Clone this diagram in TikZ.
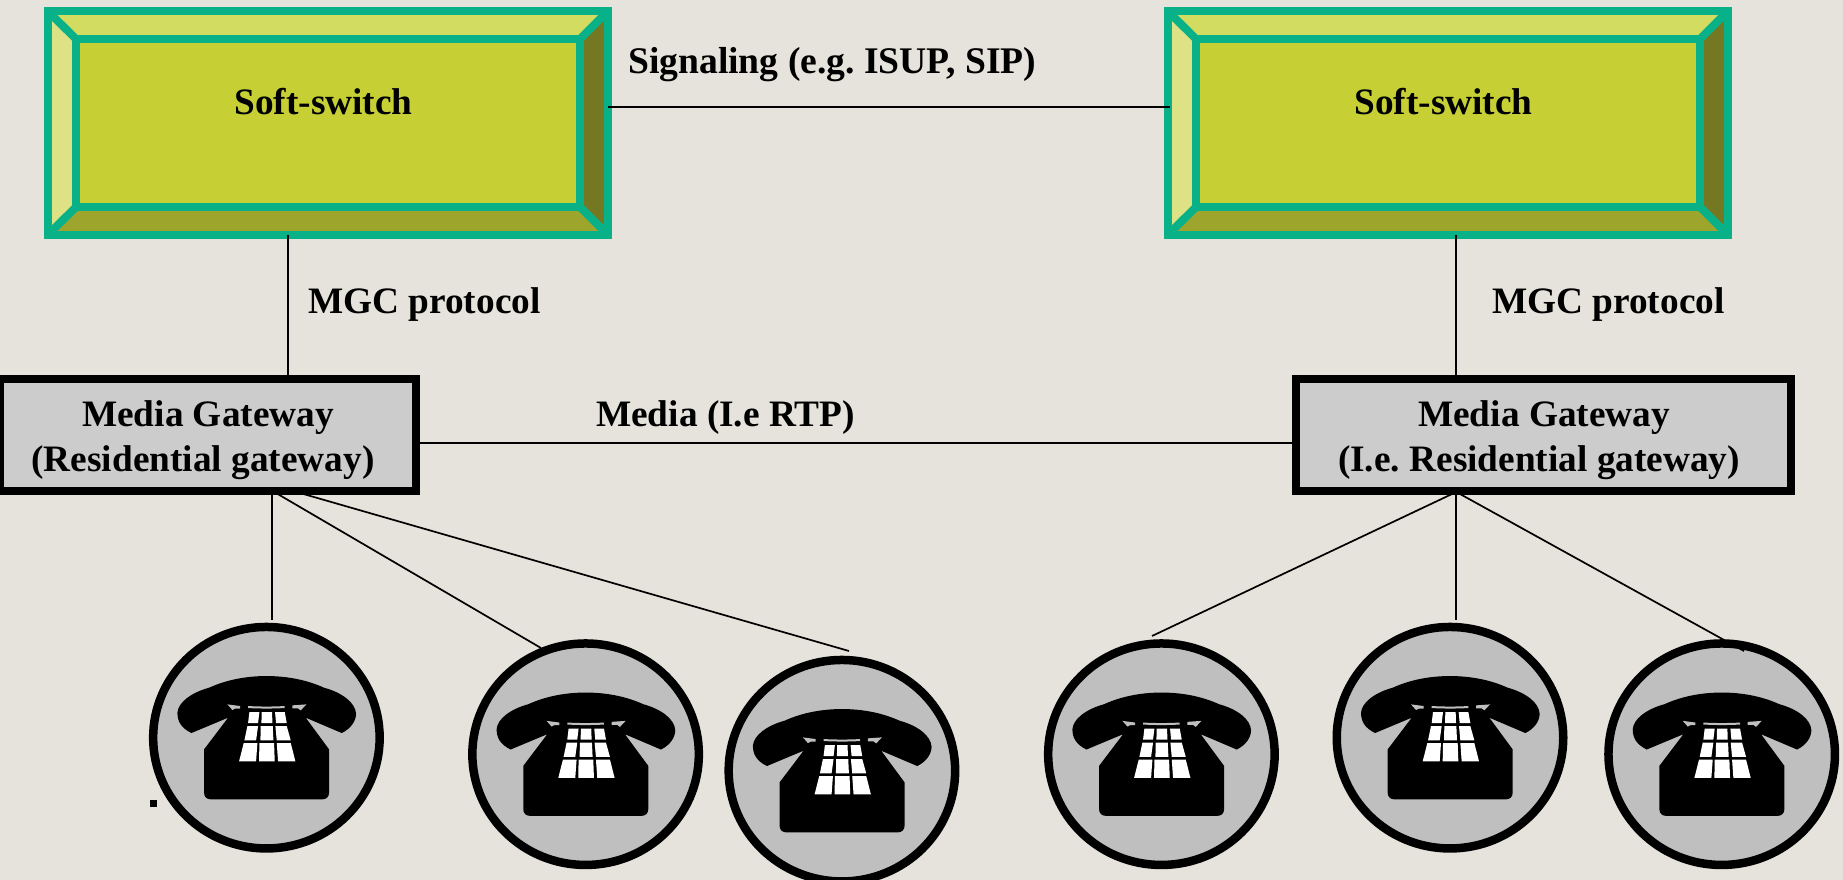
\documentclass[tikz,border=0pt]{standalone}
\usepackage{fontspec}
\setmainfont{Liberation Serif}
\usetikzlibrary{shapes.geometric}
\definecolor{bg}{HTML}{E5E3DB}
\definecolor{teal}{HTML}{09B188}
\definecolor{bvtop}{HTML}{D2DC60}
\definecolor{bvleft}{HTML}{DDE384}
\definecolor{bvmain}{HTML}{C6D035}
\definecolor{bvbot}{HTML}{9DA52C}
\definecolor{bvright}{HTML}{757822}
\definecolor{gwfill}{HTML}{CCCCCC}
\definecolor{phfill}{HTML}{BFBFBF}
\tikzset{
  lbl/.style={inner sep=0pt,font=\fontsize{37.3}{44}\selectfont\bfseries\frenchspacing,anchor=base},
  lblw/.style={lbl,anchor=base west},
  gateway/.style={draw=black,line width=8.5pt,fill=gwfill,rectangle,inner sep=0pt},
  phonec/.style={ellipse,draw=black,line width=8.5pt,fill=phfill,minimum width=226.5pt,minimum height=221.5pt,inner sep=0pt},
  conn/.style={draw=black,line width=1.7pt},
  bevel/.style={draw=teal,line width=8pt},
  phone/.pic={
    \begin{scope}[x=0.3333pt,y=-0.3333pt,shift={(-407,-385)}]
      \fill[black] (182,371) .. controls (150,355) and (140,335) .. (140,310)
        .. controls (142,280) and (180,250) .. (235,235)
        .. controls (290,210) and (350,200) .. (407,200)
        .. controls (465,200) and (525,210) .. (580,235)
        .. controls (635,250) and (674,280) .. (676,313)
        .. controls (676,335) and (660,358) .. (633,371)
        -- (525,325) -- (595,420) -- (595,550)
        .. controls (595,562) and (587,570) .. (575,570)
        -- (240,570) .. controls (228,570) and (220,562) .. (220,550)
        -- (220,420) -- (292,325) -- cycle;
      \fill[phfill] (290,285) -- (328,290) -- (328,298) -- (313,298) -- (305,302) -- cycle;
      \fill[phfill] (527,285) -- (485,288) -- (485,297) -- (502,297) -- (510,303) -- cycle;
      \fill[phfill] (352,290) .. controls (390,292) and (425,292) .. (462,290) -- (462,296) .. controls (425,298) and (390,298) .. (352,296) -- cycle;
      \fill[white] (356,308) -- (386,308) -- (382,341) -- (352,341) -- cycle;
      \fill[white] (393,308) -- (424,308) -- (425,341) -- (392,341) -- cycle;
      \fill[white] (433,308) -- (462,308) -- (468,341) -- (436,341) -- cycle;
      \fill[white] (350,350) -- (382,350) -- (376,393) -- (341,393) -- cycle;
      \fill[white] (390,350) -- (426,350) -- (428,393) -- (389,393) -- cycle;
      \fill[white] (434,350) -- (468,350) -- (480,393) -- (438,393) -- cycle;
      \fill[white] (339,401) -- (380,401) -- (376,456) -- (325,456) -- cycle;
      \fill[white] (386,401) -- (430,401) -- (432,456) -- (385,456) -- cycle;
      \fill[white] (438,401) -- (480,401) -- (494,456) -- (442,456) -- cycle;
    \end{scope}
  },
  softswitch/.pic={
    \fill[bvtop] (0,0) -- (560.3,0) -- (532.3,28) -- (28.3,28) -- cycle;
    \fill[bvleft] (0,0) -- (28.3,28) -- (28.3,196) -- (0,224) -- cycle;
    \fill[bvbot] (0,224) -- (28.3,196) -- (532.3,196) -- (560.3,224) -- cycle;
    \fill[bvright] (560.3,0) -- (560.3,224) -- (532.3,196) -- (532.3,28) -- cycle;
    \draw[bevel] (0,0) -- (28.3,28);
    \draw[bevel] (560.3,0) -- (532.3,28);
    \draw[bevel] (0,224) -- (28.3,196);
    \draw[bevel] (560.3,224) -- (532.3,196);
    \draw[bevel,fill=bvmain] (28.3,28) rectangle (532.3,196);
    \draw[bevel] (0,0) rectangle (560.3,224);
  }
}
\begin{document}
\begin{tikzpicture}[x=1pt,y=-1pt]
\path[use as bounding box,fill=bg] (0,0) rectangle (1843,880);

% soft-switches
\pic at (47.7,11) {softswitch};
\pic at (1167.7,11) {softswitch};
\node[lbl] (ss1) at (323.5,115) {Soft-switch};
\node[lbl] (ss2) at (1443.5,115) {Soft-switch};

% gateways
\node[gateway,minimum width=416pt,minimum height=112pt] (gw1) at (208,435) {};
\node[gateway,minimum width=495pt,minimum height=112pt] (gw2) at (1543.7,435) {};
\node[lbl] (gw1a) at (208,426.7) {Media Gateway};
\node[lbl] (gw1b) at (203,471.2) {(Residential gateway)};
\node[lbl] (gw2a) at (1544,426.7) {Media Gateway};
\node[lbl] (gw2b) at (1539,471.2) {(I.e. Residential gateway)};

% phones
\foreach \n/\x/\y in {p1/266.4/737.7,p2/585.6/754.2,p3/841.9/770.7,p4/1161.4/754.2,p5/1450/737.7,p6/1721.7/754.2}{
  \node[phonec] (\n) at (\x,\y) {};
  \pic at (\n.center) {phone};
}

% free ends of connectors
\coordinate (a1) at (608,107);   \coordinate (a2) at (1170,107);
\coordinate (b1) at (288,235);   \coordinate (b2) at (288,375);
\coordinate (c1) at (1456,235);  \coordinate (c2) at (1456,375);
\coordinate (d1) at (420,443);   \coordinate (d2) at (1293,443);
\coordinate (e0) at (272,495);   \coordinate (e1) at (272,620);
\coordinate (f0) at (276,493);   \coordinate (f1) at (541,648);
\coordinate (g0) at (300,493);   \coordinate (g1) at (849,651);
\coordinate (h0) at (1452,494);  \coordinate (h1) at (1152,636);
\coordinate (i0) at (1456,494);  \coordinate (i1) at (1456,620);
\coordinate (j0) at (1460,494);  \coordinate (j1) at (1744,651);

\draw[conn] (a1) -- (a2);
\draw[conn] (b1) -- (b2);
\draw[conn] (c1) -- (c2);
\draw[conn] (d1) -- (d2);
\draw[conn] (e0) -- (e1);
\draw[conn] (f0) -- (f1);
\draw[conn] (g0) -- (g1);
\draw[conn] (h0) -- (h1);
\draw[conn] (i0) -- (i1);
\draw[conn] (j0) -- (j1);

% labels
\node[lblw,font=\fontsize{37.6}{44}\selectfont\bfseries\frenchspacing] (l1) at (628,74) {Signaling (e.g. ISUP, SIP)};
\node[lblw] (l2) at (308,313) {MGC protocol};
\node[lblw] (l3) at (1492,313) {MGC protocol};
\node[lblw] (l4) at (596,426) {Media (I.e RTP)};

% stray dot
\fill[black] (150,800) rectangle (157,807);
\end{tikzpicture}
\end{document}
